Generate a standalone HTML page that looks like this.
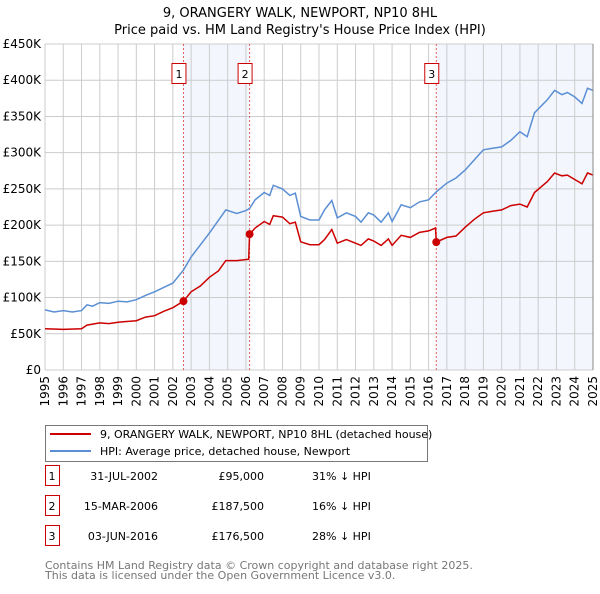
<!DOCTYPE html>
<html><head><meta charset="utf-8"><style>
body{margin:0;background:#fff;font-family:"DejaVu Sans","Liberation Sans",sans-serif;}
svg text{font-family:"DejaVu Sans","Liberation Sans",sans-serif;}
</style></head><body>
<svg id="c" width="600" height="590" xmlns="http://www.w3.org/2000/svg">
<text x="300" y="17" text-anchor="middle" font-size="13">9, ORANGERY WALK, NEWPORT, NP10 8HL</text>
<text x="300" y="34" text-anchor="middle" font-size="13">Price paid vs. HM Land Registry's House Price Index (HPI)</text>
<g id="plot"></g>
<g>
<rect x="45.5" y="425.5" width="382" height="36" fill="#fff" stroke="#777"/>
<line x1="50" y1="434" x2="91" y2="434" stroke="#cc0000" stroke-width="2"/>
<text x="100" y="438" font-size="11">9, ORANGERY WALK, NEWPORT, NP10 8HL (detached house)</text>
<line x1="50" y1="451" x2="91" y2="451" stroke="#5b8fd4" stroke-width="2"/>
<text x="100" y="455" font-size="11">HPI: Average price, detached house, Newport</text>
</g>
<g id="table" font-size="11"></g>
<text x="45" y="569" font-size="11" fill="#777">Contains HM Land Registry data © Crown copyright and database right 2025.</text>
<text x="45" y="579" font-size="11" fill="#777">This data is licensed under the Open Government Licence v3.0.</text>
</svg>
<script>
const hpiYears=[1995,1995.5,1996,1996.5,1997,1997.3,1997.6,1998,1998.5,1999,1999.5,2000,2000.5,2001,2001.5,2002,2002.58,2003,2004,2004.9,2005.5,2006,2006.2,2006.5,2007,2007.3,2007.5,2008,2008.4,2008.7,2009,2009.5,2010,2010.3,2010.7,2011,2011.5,2012,2012.3,2012.7,2013,2013.4,2013.8,2014,2014.5,2015,2015.5,2016,2016.42,2017,2017.5,2018,2018.5,2019,2019.5,2020,2020.5,2021,2021.4,2021.8,2022.5,2022.9,2023.3,2023.6,2024,2024.4,2024.7,2025];
const hpiValues=[83,80,82,80,82,90,88,93,92,95,94,97,103,108,114,120,138,156,189,221,216,220,223,235,245,241,255,250,241,244,212,207,207,221,234,210,217,212,204,217,214,204,217,205,228,224,232,235,246,258,265,276,290,304,306,308,317,329,322,355,373,386,380,383,377,368,389,386];
const paidYears=[1995,1996,1997,1997.3,1998,1998.5,1999,2000,2000.5,2001,2001.5,2002,2002.58,2003,2003.5,2004,2004.5,2004.9,2005.5,2006.15,2006.2,2006.5,2007,2007.3,2007.5,2008,2008.4,2008.7,2009,2009.5,2010,2010.3,2010.7,2011,2011.5,2012,2012.3,2012.7,2013,2013.4,2013.8,2014,2014.5,2015,2015.5,2016,2016.38,2016.42,2017,2017.5,2018,2018.5,2019,2019.5,2020,2020.5,2021,2021.4,2021.8,2022.5,2022.9,2023.3,2023.6,2024,2024.4,2024.7,2025];
const paidValues=[57,56,57,62,65,64,66,68,73,75,81,86,95,108,116,128,137,151,151,153,187.5,196,205,201,213,211,202,204,177,173,173,180,194,175,180,175,172,181,178,172,181,172,186,183,190,192,196,176.5,183,185,197,208,217,219,221,227,229,225,245,260,272,268,269,263,257,272,269];
const saleYears=[2002.58,2006.2,2016.42];
const saleValues=[95,187.5,176.5];
const saleLabels=["1","2","3"];
const saleDates=["31-JUL-2002","15-MAR-2006","03-JUN-2016"];
const salePrices=["£95,000","£187,500","£176,500"];
const saleDiffs=["31% ↓ HPI","16% ↓ HPI","28% ↓ HPI"];
const yTicks=[0,50,100,150,200,250,300,350,400,450];
const yTickLabels=["£0","£50K","£100K","£150K","£200K","£250K","£300K","£350K","£400K","£450K"];

const X0=45,X1=593,Y0=370,Y1=44;
const xs=y=>X0+(y-1995)/30*(X1-X0);
const ys=v=>Y0-v/450*(Y0-Y1);
const NS="http://www.w3.org/2000/svg";
const plot=document.getElementById('plot');
function mk(tag,attrs,parent){const e=document.createElementNS(NS,tag);for(const k in attrs)e.setAttribute(k,attrs[k]);(parent||plot).appendChild(e);return e;}

let s1=mk('rect',{x:xs(saleYears[0]),y:Y1,width:xs(saleYears[1])-xs(saleYears[0]),height:Y0-Y1,fill:'#f3f6fd'});


let s2=mk('rect',{x:xs(saleYears[2]),y:Y1,width:X1-xs(saleYears[2]),height:Y0-Y1,fill:'#f3f6fd'});



for(let yr=1995;yr<=2025;yr++){
  let g=mk('line',{x1:xs(yr),x2:xs(yr),y1:Y1,y2:Y0,stroke:'#cccccc','stroke-width':1});
  
  
  let t=mk('text',{x:0,y:0,'font-size':12,'text-anchor':'end',transform:`translate(${xs(yr)+4},${Y0+6}) rotate(-90)`});
  t.textContent=yr;
  
  
}
yTicks.forEach((v,i)=>{
  let g=mk('line',{x1:X0,x2:X1,y1:ys(v),y2:ys(v),stroke:'#cccccc','stroke-width':1});
  
  
  let t=mk('text',{x:X0-4,y:ys(v)+4,'font-size':12,'text-anchor':'end'});
  t.textContent=yTickLabels[i];
  
  
});

saleYears.forEach((yr,i)=>{
  let l=mk('line',{x1:xs(yr),x2:xs(yr),y1:Y1,y2:Y0,stroke:'#e06060','stroke-width':1,'stroke-dasharray':'2,2'});
  
  
  let b=mk('rect',{x:xs(yr)-11.5,y:63.5,width:14,height:20,fill:'#fff',stroke:'#cc0000'});
  
  
  let t=mk('text',{x:xs(yr)-4.5,y:78,'font-size':11,'text-anchor':'middle'});
  t.textContent=saleLabels[i];
  
  
});

function path(xsArr,vals){return xsArr.map((y,i)=>(i?'L':'M')+xs(y).toFixed(1)+','+ys(vals[i]).toFixed(1)).join('');}
let hp=mk('path',{d:path(hpiYears,hpiValues),fill:'none',stroke:'#5b8fd4','stroke-width':1.5});


let pp=mk('path',{d:path(paidYears,paidValues),fill:'none',stroke:'#cc0000','stroke-width':1.5});


saleYears.forEach((yr,i)=>{
  let c=mk('circle',{cx:xs(yr),cy:ys(saleValues[i]),r:4,fill:'#cc0000'});
  
  
});
let ax=mk('line',{x1:X1,x2:X1,y1:Y1,y2:Y0,stroke:'#888','stroke-width':1});



const tb=document.getElementById('table');
saleYears.forEach((yr,i)=>{
  const y=483+i*30;
  let b=mk('rect',{x:45.5,y:y-17.5,width:14,height:20,fill:'#fff',stroke:'#cc0000'},tb);
  
  
  const cells=[[saleLabels[i],52,'middle'],[saleDates[i],158,'end'],[salePrices[i],264,'end'],[saleDiffs[i],312,'start']];
  cells.forEach(c=>{
    let t=mk('text',{x:c[1],y:y-3,'text-anchor':c[2]},tb);
    t.textContent=c[0];
    
    
  });
});
</script>
</body></html>
